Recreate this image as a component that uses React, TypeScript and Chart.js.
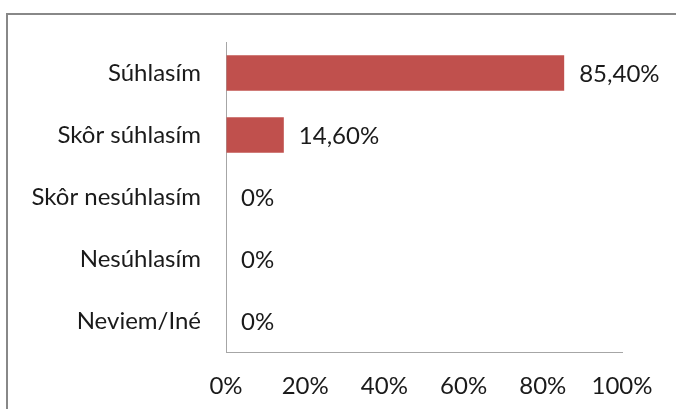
import React, { useEffect, useRef } from "react";
import { Chart, registerables } from "chart.js";

Chart.register(...registerables);

const categories = ["Súhlasím", "Skôr súhlasím", "Skôr nesúhlasím", "Nesúhlasím", "Neviem/Iné"];
const values = [85.4, 14.6, 0, 0, 0];
const valueLabels = ["85,40%", "14,60%", "0%", "0%", "0%"];
const xTicks = [0, 20, 40, 60, 80, 100];

const FONT = "Lato, 'Open Sans', sans-serif";
const FS = 24;

const frame = {
  id: "frame",
  beforeDraw(chart: any) {
    const ctx = chart.ctx;
    ctx.save();
    ctx.fillStyle = "#ffffff";
    ctx.fillRect(0, 0, chart.width, chart.height);
    ctx.strokeStyle = "#888888";
    ctx.lineWidth = 2;
    ctx.beginPath();
    ctx.moveTo(7, chart.height + 5);
    ctx.lineTo(7, 14);
    ctx.lineTo(chart.width + 5, 14);
    ctx.stroke();
    ctx.restore();
  },
};

const valueLabelPlugin = {
  id: "valueLabels",
  afterDatasetsDraw(chart: any) {
    const ctx = chart.ctx;
    const meta = chart.getDatasetMeta(0);
    ctx.save();
    ctx.font = `${FS}px ${FONT}`;
    ctx.fillStyle = "#1a1a1a";
    ctx.textAlign = "left";
    ctx.textBaseline = "middle";
    meta.data.forEach((bar: any, i: number) => {
      ctx.fillText(valueLabels[i], bar.x + 15, bar.y + 1);
    });
    ctx.restore();
  },
};

export default function App() {
  const ref = useRef<HTMLCanvasElement>(null);
  useEffect(() => {
    if (!ref.current) return;
    const chart = new Chart(ref.current, {
      type: "bar",
      data: {
        labels: categories,
        datasets: [
          {
            data: values,
            backgroundColor: "#c0504d",
            borderWidth: 0,
            categoryPercentage: 1,
            barPercentage: 0.57,
          },
        ],
      },
      options: {
        indexAxis: "y",
        animation: false,
        responsive: false,
        maintainAspectRatio: false,
        layout: { padding: { top: 42, right: 54, left: 0, bottom: 0 } },
        plugins: { legend: { display: false }, tooltip: { enabled: false } },
        scales: {
          x: {
            min: 0,
            max: 100,
            afterBuildTicks: (s: any) => {
              s.ticks = xTicks.map((v) => ({ value: v }));
            },
            afterFit: (s: any) => {
              s.height = 57;
            },
            grid: { drawOnChartArea: false, drawTicks: false },
            border: { display: true, color: "#a6a6a6", width: 1 },
            ticks: {
              padding: 20,
              color: "#1a1a1a",
              font: { family: FONT, size: FS },
              callback: (v: any) => `${v}%`,
            },
          },
          y: {
            afterFit: (s: any) => {
              s.width = 226;
            },
            grid: { drawOnChartArea: false, drawTicks: false },
            border: { display: true, color: "#a6a6a6", width: 1 },
            ticks: {
              padding: 25,
              color: "#1a1a1a",
              font: { family: FONT, size: FS },
            },
          },
        },
      },
      plugins: [frame, valueLabelPlugin],
    });
    return () => chart.destroy();
  }, []);
  return (
    <div style={{ position: "fixed", left: 0, top: 0, width: 676, height: 409, background: "#fff" }}>
      <canvas ref={ref} width={676} height={409} style={{ display: "block" }} />
    </div>
  );
}
